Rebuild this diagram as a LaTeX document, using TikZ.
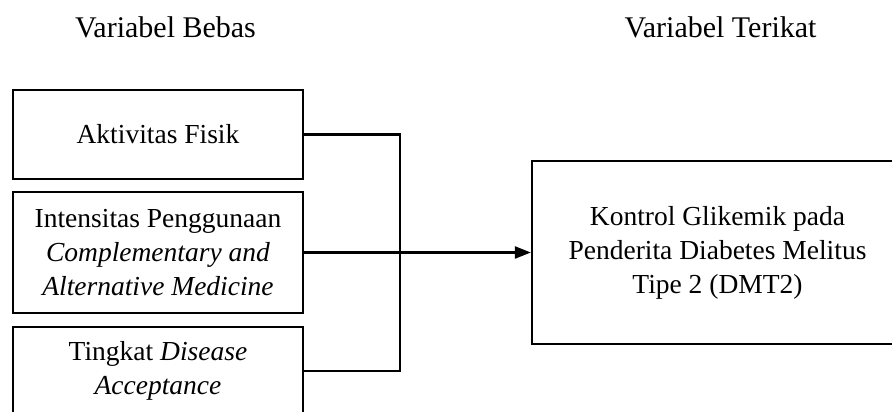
\documentclass[tikz,border=0pt]{standalone}
\usepackage{fontspec}
\setmainfont{Liberation Serif}
\usetikzlibrary{arrows.meta}
\begin{document}
\begin{tikzpicture}[x=1pt,y=-1pt,
  box/.style={draw=black,line width=2.3pt,inner sep=0pt,align=center,
    font=\fontsize{27.5}{34}\selectfont},
  head/.style={inner sep=0pt,anchor=base,font=\fontsize{30}{34}\selectfont},
  conn/.style={line width=2.2pt}]
\useasboundingbox (0,0) rectangle (892,412);
\clip (0,0) rectangle (892,412);
\node[head] (hb) at (165.5,37.5) {Variabel Bebas};
\node[head] (ht) at (720.5,37.5) {Variabel Terikat};
\node[box,minimum width=290pt,minimum height=89pt] (b1) at (158,134.5) {Aktivitas Fisik};
\node[box,minimum width=290pt,minimum height=121pt] (b2) at (158,252.5)
  {Intensitas Penggunaan\\\textit{Complementary and}\\\textit{Alternative Medicine}};
\node[box,minimum width=290pt,minimum height=88pt] (b3) at (158,371)
  {Tingkat \textit{Disease}\\\textit{Acceptance}};
\node[box,minimum width=371pt,minimum height=183pt] (out) at (717.5,252.5)
  {Kontrol Glikemik pada\\Penderita Diabetes Melitus\\Tipe 2 (DMT2)};
\coordinate (j) at (400,252.5);
\draw[conn] (b1.east) -| (j) |- (b3.east);
\draw[conn,-{Triangle[length=16pt,width=12pt]}] (b2.east) -- (out.west);
\end{tikzpicture}
\end{document}
